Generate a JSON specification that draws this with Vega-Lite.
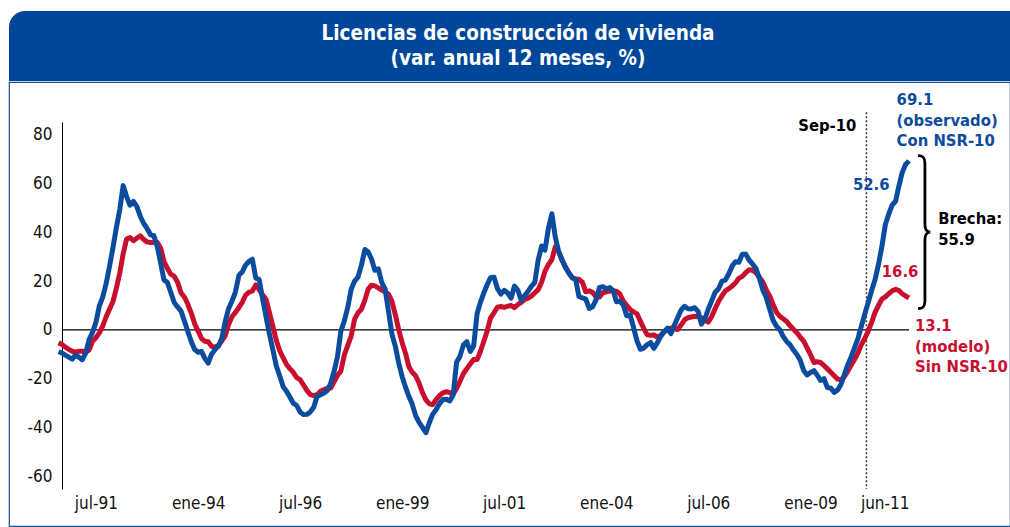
{
  "$schema": "https://vega.github.io/schema/vega-lite/v6.json",
  "padding": {"left": 8, "top": 11, "right": 0, "bottom": 0},
  "background": "white",
  "spacing": 0,
  "config": {
    "view": {"stroke": null},
    "axis": {"grid": false, "ticks": false, "labelColor": "#111", "labelFont": "DejaVu Sans Condensed", "labelFontSize": 17},
    "axisX": {"domain": false, "labelPadding": 6, "offset": -37},
    "axisY": {"domain": true, "domainColor": "#000", "domainWidth": 1, "labelPadding": 10, "offset": -53}
  },
  "vconcat": [
    {
      "width": 1001,
      "height": 70,
      "data": {"values": [{}]},
      "layer": [
        {"mark": {"type": "rect", "color": "#00479B", "cornerRadiusTopLeft": 16}, "encoding": {}},
        {"mark": {"type": "text", "text": ["Licencias de construcción de vivienda", "(var. anual 12 meses, %)"], "color": "#ffffff", "font": "DejaVu Sans Condensed", "fontWeight": "bold", "fontSize": 20.5, "lineHeight": 25, "baseline": "middle", "align": "center", "dx": 8.5, "dy": -12.5}, "encoding": {}}
      ]
    },
    {
      "width": 1001,
      "height": 444,
      "view": {"stroke": "#1A4F9C", "strokeWidth": 1.2, "cornerRadius": 0},
      "data": {
        "format": {"parse": {"d": "date:'%Y-%m'"}},
        "values": [
          {"d":"1990-08","obs":-8.9,"mod":-5.2},{"d":"1990-09","obs":-9.4,"mod":-5.9},{"d":"1990-10","obs":-10.3,"mod":-7.0},{"d":"1990-11","obs":-11.1,"mod":-7.9},{"d":"1990-12","obs":-11.9,"mod":-8.7},
          {"d":"1991-01","obs":-10.2,"mod":-9.1},{"d":"1991-02","obs":-11.2,"mod":-8.7},{"d":"1991-03","obs":-12.2,"mod":-8.7},{"d":"1991-04","obs":-9.5,"mod":-9.0},{"d":"1991-05","obs":-4.0,"mod":-8.2},{"d":"1991-06","obs":-1.0,"mod":-4.6},
          {"d":"1991-07","obs":3.0,"mod":-3.2},{"d":"1991-08","obs":9.8,"mod":-1.2},{"d":"1991-09","obs":13.5,"mod":1.7},{"d":"1991-10","obs":19.0,"mod":5.4},{"d":"1991-11","obs":26.2,"mod":8.6},{"d":"1991-12","obs":33.7,"mod":11.6},
          {"d":"1992-01","obs":42.0,"mod":17.2},{"d":"1992-02","obs":49.5,"mod":23.5},{"d":"1992-03","obs":59.0,"mod":31.1},{"d":"1992-04","obs":54.5,"mod":37.2},{"d":"1992-05","obs":51.0,"mod":37.8},{"d":"1992-06","obs":52.5,"mod":36.5},
          {"d":"1992-07","obs":50.5,"mod":37.5},{"d":"1992-08","obs":46.5,"mod":38.5},{"d":"1992-09","obs":43.5,"mod":37.0},{"d":"1992-10","obs":41.5,"mod":36.0},{"d":"1992-11","obs":38.9,"mod":35.7},{"d":"1992-12","obs":38.5,"mod":35.7},
          {"d":"1993-01","obs":34.0,"mod":35.7},{"d":"1993-02","obs":27.0,"mod":33.3},{"d":"1993-03","obs":20.5,"mod":28.0},{"d":"1993-04","obs":19.4,"mod":25.2},{"d":"1993-05","obs":15.4,"mod":22.8},{"d":"1993-06","obs":11.2,"mod":22.0},
          {"d":"1993-07","obs":9.4,"mod":19.5},{"d":"1993-08","obs":7.7,"mod":15.2},{"d":"1993-09","obs":3.6,"mod":13.4},{"d":"1993-10","obs":-0.6,"mod":10.5},{"d":"1993-11","obs":-4.8,"mod":6.8},{"d":"1993-12","obs":-8.0,"mod":2.5},
          {"d":"1994-01","obs":-9.1,"mod":-0.5},{"d":"1994-02","obs":-8.8,"mod":-3.5},{"d":"1994-03","obs":-11.5,"mod":-4.6},{"d":"1994-04","obs":-13.5,"mod":-4.8},{"d":"1994-05","obs":-9.9,"mod":-6.7},{"d":"1994-06","obs":-8.0,"mod":-7.0},
          {"d":"1994-07","obs":-6.6,"mod":-6.4},{"d":"1994-08","obs":-3.4,"mod":-4.4},{"d":"1994-09","obs":3.6,"mod":-2.3},{"d":"1994-10","obs":8.8,"mod":2.3},{"d":"1994-11","obs":11.9,"mod":5.5},{"d":"1994-12","obs":15.6,"mod":7.2},
          {"d":"1995-01","obs":22.4,"mod":9.2},{"d":"1995-02","obs":23.8,"mod":11.4},{"d":"1995-03","obs":26.5,"mod":14.2},{"d":"1995-04","obs":28.0,"mod":15.5},{"d":"1995-05","obs":28.9,"mod":15.9},{"d":"1995-06","obs":21.2,"mod":18.4},
          {"d":"1995-07","obs":20.7,"mod":16.5},{"d":"1995-08","obs":12.7,"mod":14.3},{"d":"1995-09","obs":5.3,"mod":12.5},{"d":"1995-10","obs":-1.7,"mod":7.1},{"d":"1995-11","obs":-8.2,"mod":1.4},{"d":"1995-12","obs":-14.6,"mod":-4.2},
          {"d":"1996-01","obs":-18.8,"mod":-8.5},{"d":"1996-02","obs":-23.2,"mod":-11.4},{"d":"1996-03","obs":-25.0,"mod":-14.0},{"d":"1996-04","obs":-27.4,"mod":-15.8},{"d":"1996-05","obs":-29.9,"mod":-17.3},{"d":"1996-06","obs":-30.9,"mod":-19.5},
          {"d":"1996-07","obs":-33.5,"mod":-20.3},{"d":"1996-08","obs":-34.6,"mod":-22.5},{"d":"1996-09","obs":-34.5,"mod":-24.8},{"d":"1996-10","obs":-33.5,"mod":-26.4},{"d":"1996-11","obs":-31.5,"mod":-26.8},{"d":"1996-12","obs":-27.0,"mod":-26.5},
          {"d":"1997-01","obs":-26.5,"mod":-25.0},{"d":"1997-02","obs":-25.8,"mod":-24.4},{"d":"1997-03","obs":-24.8,"mod":-23.8},{"d":"1997-04","obs":-21.8,"mod":-23.7},{"d":"1997-05","obs":-17.0,"mod":-21.2},{"d":"1997-06","obs":-10.9,"mod":-18.5},
          {"d":"1997-07","obs":-0.5,"mod":-16.8},{"d":"1997-08","obs":3.7,"mod":-10.2},{"d":"1997-09","obs":9.3,"mod":-6.3},{"d":"1997-10","obs":16.6,"mod":-2.5},{"d":"1997-11","obs":20.0,"mod":4.4},{"d":"1997-12","obs":21.6,"mod":7.0},
          {"d":"1998-01","obs":26.5,"mod":8.5},{"d":"1998-02","obs":32.9,"mod":12.2},{"d":"1998-03","obs":32.0,"mod":16.6},{"d":"1998-04","obs":29.0,"mod":18.3},{"d":"1998-05","obs":24.4,"mod":18.0},{"d":"1998-06","obs":25.0,"mod":17.2},
          {"d":"1998-07","obs":19.5,"mod":16.3},{"d":"1998-08","obs":16.7,"mod":15.6},{"d":"1998-09","obs":7.4,"mod":14.6},{"d":"1998-10","obs":-1.7,"mod":11.7},{"d":"1998-11","obs":-6.8,"mod":6.1},{"d":"1998-12","obs":-13.6,"mod":0.0},
          {"d":"1999-01","obs":-19.2,"mod":-5.3},{"d":"1999-02","obs":-23.6,"mod":-9.8},{"d":"1999-03","obs":-27.1,"mod":-15.0},{"d":"1999-04","obs":-30.4,"mod":-17.3},{"d":"1999-05","obs":-35.0,"mod":-18.7},{"d":"1999-06","obs":-37.8,"mod":-21.8},
          {"d":"1999-07","obs":-39.8,"mod":-25.6},{"d":"1999-08","obs":-42.0,"mod":-28.6},{"d":"1999-09","obs":-37.8,"mod":-30.2},{"d":"1999-10","obs":-34.4,"mod":-30.5},{"d":"1999-11","obs":-32.5,"mod":-28.4},{"d":"1999-12","obs":-30.1,"mod":-26.8},
          {"d":"2000-01","obs":-28.4,"mod":-25.7},{"d":"2000-02","obs":-28.3,"mod":-25.2},{"d":"2000-03","obs":-29.0,"mod":-25.6},{"d":"2000-04","obs":-26.5,"mod":-26.2},{"d":"2000-05","obs":-13.2,"mod":-23.9},{"d":"2000-06","obs":-10.7,"mod":-21.0},
          {"d":"2000-07","obs":-6.2,"mod":-17.9},{"d":"2000-08","obs":-4.8,"mod":-15.8},{"d":"2000-09","obs":-8.8,"mod":-13.9},{"d":"2000-10","obs":-6.5,"mod":-12.1},{"d":"2000-11","obs":6.7,"mod":-12.1},{"d":"2000-12","obs":11.4,"mod":-8.7},
          {"d":"2001-01","obs":15.3,"mod":-4.5},{"d":"2001-02","obs":18.7,"mod":-0.1},{"d":"2001-03","obs":21.4,"mod":4.9},{"d":"2001-04","obs":21.6,"mod":7.0},{"d":"2001-05","obs":17.0,"mod":9.3},{"d":"2001-06","obs":14.7,"mod":9.6},
          {"d":"2001-07","obs":16.2,"mod":9.2},{"d":"2001-08","obs":15.1,"mod":9.7},{"d":"2001-09","obs":13.0,"mod":10.0},{"d":"2001-10","obs":17.9,"mod":9.1},{"d":"2001-11","obs":16.2,"mod":10.4},{"d":"2001-12","obs":12.1,"mod":11.3},
          {"d":"2002-01","obs":14.1,"mod":12.5},{"d":"2002-02","obs":15.9,"mod":13.0},{"d":"2002-03","obs":17.8,"mod":13.8},{"d":"2002-04","obs":19.4,"mod":15.2},{"d":"2002-05","obs":28.5,"mod":16.5},{"d":"2002-06","obs":34.3,"mod":19.5},
          {"d":"2002-07","obs":32.6,"mod":24.0},{"d":"2002-08","obs":41.5,"mod":26.7},{"d":"2002-09","obs":47.5,"mod":28.8},{"d":"2002-10","obs":38.0,"mod":34.0},{"d":"2002-11","obs":32.0,"mod":32.0},{"d":"2002-12","obs":28.6,"mod":28.5},
          {"d":"2003-01","obs":25.5,"mod":25.7},{"d":"2003-02","obs":23.2,"mod":23.2},{"d":"2003-03","obs":21.3,"mod":21.5},{"d":"2003-04","obs":20.8,"mod":20.7},{"d":"2003-05","obs":13.7,"mod":20.7},{"d":"2003-06","obs":13.1,"mod":19.5},
          {"d":"2003-07","obs":12.6,"mod":15.6},{"d":"2003-08","obs":8.8,"mod":16.0},{"d":"2003-09","obs":9.5,"mod":15.3},{"d":"2003-10","obs":12.3,"mod":13.5},{"d":"2003-11","obs":17.4,"mod":13.5},{"d":"2003-12","obs":17.7,"mod":15.2},
          {"d":"2004-01","obs":16.8,"mod":15.6},{"d":"2004-02","obs":17.3,"mod":15.9},{"d":"2004-03","obs":16.2,"mod":15.9},{"d":"2004-04","obs":11.5,"mod":15.8},{"d":"2004-05","obs":11.7,"mod":14.7},{"d":"2004-06","obs":10.2,"mod":11.8},
          {"d":"2004-07","obs":5.8,"mod":10.1},{"d":"2004-08","obs":6.1,"mod":8.3},{"d":"2004-09","obs":1.0,"mod":7.4},{"d":"2004-10","obs":-4.4,"mod":6.6},{"d":"2004-11","obs":-7.9,"mod":3.5},{"d":"2004-12","obs":-7.4,"mod":0.6},
          {"d":"2005-01","obs":-6.0,"mod":-2.0},{"d":"2005-02","obs":-5.2,"mod":-2.2},{"d":"2005-03","obs":-7.5,"mod":-2.0},{"d":"2005-04","obs":-5.3,"mod":-3.0},{"d":"2005-05","obs":-2.7,"mod":-2.2},{"d":"2005-06","obs":-0.7,"mod":-0.7},
          {"d":"2005-07","obs":0.7,"mod":0.3},{"d":"2005-08","obs":-1.5,"mod":0.8},{"d":"2005-09","obs":1.9,"mod":0.5},{"d":"2005-10","obs":5.1,"mod":0.2},{"d":"2005-11","obs":8.2,"mod":2.1},{"d":"2005-12","obs":9.7,"mod":4.1},
          {"d":"2006-01","obs":8.7,"mod":5.0},{"d":"2006-02","obs":8.6,"mod":5.3},{"d":"2006-03","obs":9.1,"mod":5.6},{"d":"2006-04","obs":7.6,"mod":5.4},{"d":"2006-05","obs":2.4,"mod":5.0},{"d":"2006-06","obs":4.6,"mod":4.0},
          {"d":"2006-07","obs":8.5,"mod":3.2},{"d":"2006-08","obs":12.0,"mod":5.5},{"d":"2006-09","obs":15.4,"mod":8.8},{"d":"2006-10","obs":16.8,"mod":11.6},{"d":"2006-11","obs":20.0,"mod":14.0},{"d":"2006-12","obs":20.4,"mod":16.0},
          {"d":"2007-01","obs":23.0,"mod":16.9},{"d":"2007-02","obs":26.2,"mod":18.0},{"d":"2007-03","obs":27.9,"mod":19.2},{"d":"2007-04","obs":27.7,"mod":21.1},{"d":"2007-05","obs":30.9,"mod":21.9},{"d":"2007-06","obs":31.0,"mod":23.4},
          {"d":"2007-07","obs":28.6,"mod":24.6},{"d":"2007-08","obs":27.0,"mod":24.4},{"d":"2007-09","obs":25.1,"mod":23.4},{"d":"2007-10","obs":21.2,"mod":21.6},{"d":"2007-11","obs":16.4,"mod":19.6},{"d":"2007-12","obs":13.4,"mod":16.5},
          {"d":"2008-01","obs":8.6,"mod":13.9},{"d":"2008-02","obs":4.0,"mod":10.4},{"d":"2008-03","obs":1.6,"mod":7.3},{"d":"2008-04","obs":0.1,"mod":5.6},{"d":"2008-05","obs":-2.6,"mod":4.6},{"d":"2008-06","obs":-4.7,"mod":3.5},
          {"d":"2008-07","obs":-6.0,"mod":1.8},{"d":"2008-08","obs":-8.2,"mod":0.3},{"d":"2008-09","obs":-10.0,"mod":-1.1},{"d":"2008-10","obs":-12.4,"mod":-2.9},{"d":"2008-11","obs":-16.6,"mod":-4.6},{"d":"2008-12","obs":-18.4,"mod":-7.3},
          {"d":"2009-01","obs":-17.4,"mod":-10.1},{"d":"2009-02","obs":-16.6,"mod":-13.3},{"d":"2009-03","obs":-18.4,"mod":-13.0},{"d":"2009-04","obs":-20.6,"mod":-13.3},{"d":"2009-05","obs":-19.9,"mod":-14.5},{"d":"2009-06","obs":-23.5,"mod":-15.9},
          {"d":"2009-07","obs":-23.8,"mod":-17.3},{"d":"2009-08","obs":-25.5,"mod":-18.7},{"d":"2009-09","obs":-24.5,"mod":-20.1},{"d":"2009-10","obs":-22.2,"mod":-20.4},{"d":"2009-11","obs":-18.0,"mod":-19.0},{"d":"2009-12","obs":-14.2,"mod":-16.8},
          {"d":"2010-01","obs":-10.8,"mod":-14.2},{"d":"2010-02","obs":-7.0,"mod":-11.9},{"d":"2010-03","obs":-3.5,"mod":-9.4},{"d":"2010-04","obs":1.6,"mod":-6.0},{"d":"2010-05","obs":6.5,"mod":-3.5},{"d":"2010-06","obs":11.2,"mod":-0.5},
          {"d":"2010-07","obs":16.0,"mod":3.0},{"d":"2010-08","obs":20.5,"mod":7.2},{"d":"2010-09","obs":26.8,"mod":10.0},{"d":"2010-10","obs":34.0,"mod":12.6},{"d":"2010-11","obs":43.0,"mod":13.5},{"d":"2010-12","obs":47.3,"mod":14.8},
          {"d":"2011-01","obs":51.0,"mod":16.0},{"d":"2011-02","obs":52.6,"mod":16.6},{"d":"2011-03","obs":58.5,"mod":16.2},{"d":"2011-04","obs":64.3,"mod":14.8},{"d":"2011-05","obs":67.6,"mod":13.9},{"d":"2011-06","obs":69.1,"mod":13.1}
        ]
      },
      "layer": [
        {
          "data": {"values": [{"d0": "1990-09-01", "d1": "2011-06-01", "v": 0}], "format": {"parse": {"d0": "date:'%Y-%m-%d'", "d1": "date:'%Y-%m-%d'"}}},
          "mark": {"type": "rule", "color": "#000000", "strokeWidth": 1.2},
          "encoding": {
            "x": {
              "field": "d0", "type": "temporal", "title": null,
              "scale": {"domain": [{"year": 1990, "month": 9, "date": 1}, {"year": 2011, "month": 6, "date": 1}], "range": [53, 900]},
              "axis": {
                "values": [{"year": 1991, "month": 7, "date": 1}, {"year": 1994, "month": 1, "date": 1}, {"year": 1996, "month": 7, "date": 1}, {"year": 1999, "month": 1, "date": 1}, {"year": 2001, "month": 7, "date": 1}, {"year": 2004, "month": 1, "date": 1}, {"year": 2006, "month": 7, "date": 1}, {"year": 2009, "month": 1, "date": 1}, {"year": 2011, "month": 6, "date": 1}],
                "labelExpr": "['ene','feb','mar','abr','may','jun','jul','ago','sep','oct','nov','dic'][month(datum.value)] + '-' + timeFormat(datum.value, '%y')"
              }
            },
            "x2": {"field": "d1"},
            "y": {
              "field": "v", "type": "quantitative", "title": null,
              "scale": {"domain": [-65, 85], "range": [407, 40], "nice": false, "zero": false},
              "axis": {"values": [-60, -40, -20, 0, 20, 40, 60, 80], "labelExpr": "'' + datum.value"}
            }
          }
        },
        {
          "data": {"values": [{"d": "2010-05-16", "top": 89, "bottom": -65}], "format": {"parse": {"d": "date:'%Y-%m-%d'"}}},
          "mark": {"type": "rule", "color": "#333333", "strokeWidth": 1.5, "strokeDash": [2, 2]},
          "encoding": {
            "x": {"field": "d", "type": "temporal", "title": null},
            "y": {"field": "top", "type": "quantitative", "title": null},
            "y2": {"field": "bottom"}
          }
        },
        {
          "mark": {"type": "line", "color": "#C8102E", "strokeWidth": 5, "strokeJoin": "round"},
          "encoding": {
            "x": {"field": "d", "type": "temporal", "title": null},
            "y": {"field": "mod", "type": "quantitative", "title": null}
          }
        },
        {
          "mark": {"type": "line", "color": "#0B4C9E", "strokeWidth": 5, "strokeJoin": "round"},
          "encoding": {
            "x": {"field": "d", "type": "temporal", "title": null},
            "y": {"field": "obs", "type": "quantitative", "title": null}
          }
        },
        {
          "data": {"values": [{"d": "2011-02-01", "obs": 52.6, "mod": 16.6}, {"d": "2011-06-01", "obs": 69.1, "mod": 13.1}], "format": {"parse": {"d": "date:'%Y-%m-%d'"}}},
          "mark": {"type": "point", "filled": true, "size": 150, "opacity": 1, "color": "#C8102E"},
          "encoding": {
            "x": {"field": "d", "type": "temporal", "title": null},
            "y": {"field": "mod", "type": "quantitative", "title": null}
          }
        },
        {
          "data": {"values": [{"d": "2011-02-01", "obs": 52.6, "mod": 16.6}, {"d": "2011-06-01", "obs": 69.1, "mod": 13.1}], "format": {"parse": {"d": "date:'%Y-%m-%d'"}}},
          "mark": {"type": "point", "filled": true, "size": 150, "opacity": 1, "color": "#0B4C9E"},
          "encoding": {
            "x": {"field": "d", "type": "temporal", "title": null},
            "y": {"field": "obs", "type": "quantitative", "title": null}
          }
        },
        {
          "data": {"values": [{"d": "2011-10-01", "v": 40}], "format": {"parse": {"d": "date:'%Y-%m-%d'"}}},
          "mark": {"type": "point", "filled": false, "opacity": 1, "color": "#000000", "strokeWidth": 2.8, "size": 23409, "shape": "M-0.06,-1 C0.01,-1 0.03,-0.97 0.03,-0.9 L0.03,-0.1 C0.03,-0.04 0.05,0 0.1,0 C0.05,0 0.03,0.04 0.03,0.1 L0.03,0.9 C0.03,0.97 0.01,1 -0.06,1"},
          "encoding": {
            "x": {"field": "d", "type": "temporal", "title": null},
            "y": {"field": "v", "type": "quantitative", "title": null}
          }
        },
        {
          "data": {"values": [{"d": "2010-05-16", "v": 83.2, "t": "Sep-10"}], "format": {"parse": {"d": "date:'%Y-%m-%d'"}}},
          "mark": {"type": "text", "font": "DejaVu Sans Condensed", "fontWeight": "bold", "fontSize": 16.5, "color": "#000000", "align": "right", "baseline": "middle", "dx": -10},
          "encoding": {
            "x": {"field": "d", "type": "temporal", "title": null},
            "y": {"field": "v", "type": "quantitative", "title": null},
            "text": {"field": "t"}
          }
        },
        {
          "data": {"values": [{"d": "2011-10-01", "v": 45.2, "t": "Brecha:"}, {"d": "2011-10-01", "v": 36.8, "t": "55.9"}], "format": {"parse": {"d": "date:'%Y-%m-%d'"}}},
          "mark": {"type": "text", "font": "DejaVu Sans Condensed", "fontWeight": "bold", "fontSize": 16.5, "color": "#000000", "align": "left", "baseline": "middle", "dx": 15.5},
          "encoding": {
            "x": {"field": "d", "type": "temporal", "title": null},
            "y": {"field": "v", "type": "quantitative", "title": null},
            "text": {"field": "t"}
          }
        },
        {
          "data": {"values": [{"d": "2011-02-01", "v": 94.0, "t": "69.1"}, {"d": "2011-02-01", "v": 85.5, "t": "(observado)"}, {"d": "2011-02-01", "v": 77.3, "t": "Con NSR-10"}], "format": {"parse": {"d": "date:'%Y-%m-%d'"}}},
          "mark": {"type": "text", "font": "DejaVu Sans Condensed", "fontWeight": "bold", "fontSize": 16.5, "color": "#0B4C9E", "align": "left", "baseline": "middle", "dx": 1},
          "encoding": {
            "x": {"field": "d", "type": "temporal", "title": null},
            "y": {"field": "v", "type": "quantitative", "title": null},
            "text": {"field": "t"}
          }
        },
        {
          "data": {"values": [{"d": "2011-02-01", "v": 59.3, "t": "52.6"}], "format": {"parse": {"d": "date:'%Y-%m-%d'"}}},
          "mark": {"type": "text", "font": "DejaVu Sans Condensed", "fontWeight": "bold", "fontSize": 16.5, "color": "#0B4C9E", "align": "right", "baseline": "middle", "dx": -6},
          "encoding": {
            "x": {"field": "d", "type": "temporal", "title": null},
            "y": {"field": "v", "type": "quantitative", "title": null},
            "text": {"field": "t"}
          }
        },
        {
          "data": {"values": [{"d": "2011-02-01", "v": 23.7, "t": "16.6"}], "format": {"parse": {"d": "date:'%Y-%m-%d'"}}},
          "mark": {"type": "text", "font": "DejaVu Sans Condensed", "fontWeight": "bold", "fontSize": 16.5, "color": "#C8102E", "align": "center", "baseline": "middle", "dx": 4.5},
          "encoding": {
            "x": {"field": "d", "type": "temporal", "title": null},
            "y": {"field": "v", "type": "quantitative", "title": null},
            "text": {"field": "t"}
          }
        },
        {
          "data": {"values": [{"d": "2011-06-01", "v": 1.6, "t": "13.1"}, {"d": "2011-06-01", "v": -6.9, "t": "(modelo)"}, {"d": "2011-06-01", "v": -15.1, "t": "Sin NSR-10"}], "format": {"parse": {"d": "date:'%Y-%m-%d'"}}},
          "mark": {"type": "text", "font": "DejaVu Sans Condensed", "fontWeight": "bold", "fontSize": 16.5, "color": "#C8102E", "align": "left", "baseline": "middle", "dx": 6},
          "encoding": {
            "x": {"field": "d", "type": "temporal", "title": null},
            "y": {"field": "v", "type": "quantitative", "title": null},
            "text": {"field": "t"}
          }
        }
      ]
    }
  ]
}
